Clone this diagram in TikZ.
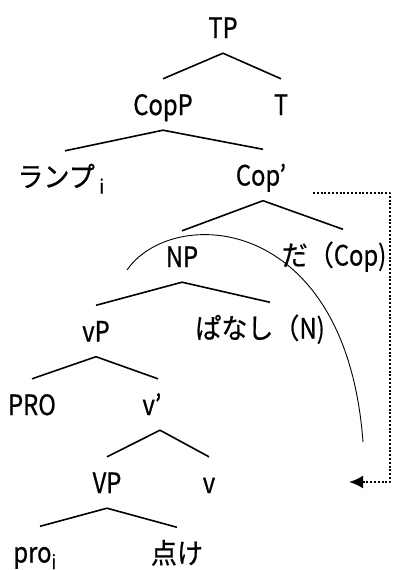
\documentclass[tikz,border=0pt]{standalone}
\usepackage{fontspec}
\setmainfont{Noto Sans CJK JP}[FakeStretch=0.85, FakeBold=0.6]
\newfontfamily\jp{Noto Sans CJK JP}[FakeStretch=0.93, FakeBold=0.6]
\usetikzlibrary{arrows.meta}
\tikzset{
  every picture/.style={line join=round, >=Stealth},
  cat/.style={inner sep=0pt, text height=36pt, text depth=15pt, font=\fontsize{28}{28}\selectfont},
  branch/.style={line width=1.6pt},
  move/.style={line width=2.4pt, dash pattern=on 2pt off 1.8pt},
}

\begin{document}
\begin{tikzpicture}[x=1pt,y=-1pt]
\useasboundingbox (0,0) rectangle (394,570);
% categories, top to bottom
\node[cat] (tp) at (223,27.5) {TP};
\node[cat] (copp) at (163,104.5) {CopP};
\node[cat] (t) at (281,104.5) {T};
\node[cat] (lamp) at (61,176.5) {{\jp ランプ}\,\textsubscript{i}};
\node[cat] (copb) at (261,175) {Cop’};
\node[cat] (np) at (182,256.5) {NP};
\node[cat] (da) at (334,255) {{\jp だ（}Cop)};
\node[cat] (vp) at (96,331) {vP};
\node[cat] (pan) at (260,328) {{\jp ぱなし（}N)};
\node[cat] (pro) at (32,404.5) {PRO};
\node[cat] (vb) at (152,404.5) {v’};
\node[cat] (bigvp) at (107,482.5) {VP};
\node[cat] (v) at (209,482.5) {v};
\node[cat] (proi) at (35,552) {pro\textsubscript{i}};
\node[cat] (tsuke) at (177,553) {\jp 点け};
% branches
\draw[branch] (tp.south) -- (copp.north);
\draw[branch] (tp.south) -- (t.north);
\draw[branch] (copp.south) -- ([xshift=4pt]lamp.north);
\draw[branch] (copp.south) -- ([xshift=2pt]copb.north);
\draw[branch] ([xshift=2pt]copb.south) -- (np.north);
\draw[branch] ([xshift=2pt]copb.south) -- ([xshift=9pt]da.north);
\draw[branch] (np.south) -- (vp.north);
\draw[branch] (np.south) -- ([xshift=10pt]pan.north);
\draw[branch] (vp.south) -- (pro.north);
\draw[branch] (vp.south) -- ([xshift=6pt]vb.north);
\draw[branch] ([xshift=8pt]vb.south) -- (bigvp.north);
\draw[branch] ([xshift=8pt]vb.south) -- (v.north);
\draw[branch] (bigvp.south) -- ([xshift=5pt]proi.north);
\draw[branch] (bigvp.south) -- (tsuke.north);
% scope arc
\draw[line width=0.9pt] (127,270) .. controls (172,205) and (346,212) .. (363,442);
% movement of the copula
\coordinate (rise) at (313,193);
\coordinate (land) at (349,482);
\draw[move,-{Latex[length=14pt,width=13pt]}] (rise) -| (390,482) -- (land);
\end{tikzpicture}
\end{document}
